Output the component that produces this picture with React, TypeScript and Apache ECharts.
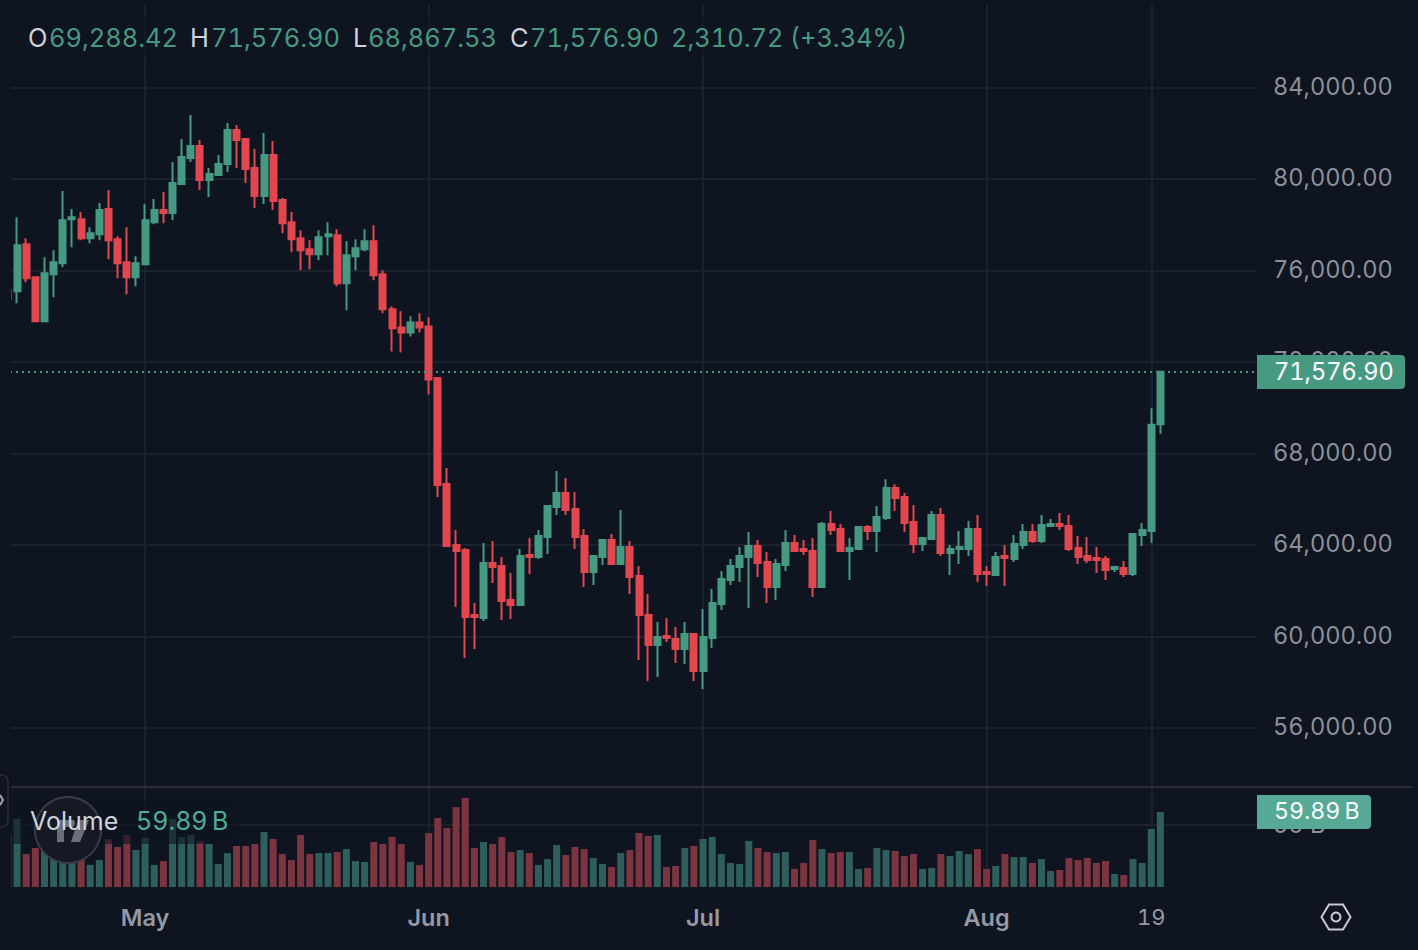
import React, { useEffect, useRef } from "react";
import * as echarts from "echarts";

const opens = [74744,75094,77153,75707,73780,75839,76321,78248,78248,77416,77591,78686,77372,76364,75707,76277,78116,78642,78511,79781,80920,81445,79956,80175,80657,82146,81752,80482,79255,81051,79080,78116,77416,76934,76715,77503,77547,75445,76627,76934,77284,75839,74306,73517,73298,73736,73561,71302,66672,64007,63789,60950,60818,63221,63090,61605,61386,63570,63483,64356,65667,66278,65579,64400,62828,63483,64225,63177,63920,62653,60950,59639,60032,59901,59464,60120,58503,59945,61430,62478,63046,63483,63963,63264,62172,63133,64094,63830,63743,62171,64921,64703,63743,63830,64791,64616,65183,66493,66100,65009,64048,64267,65314,63656,63830,63830,64703,62826,62695,63525,63394,64005,64572,64179,64834,64921,64834,63874,63525,63437,63394,62957,63001,62739,64441,64616,69288.42];
const closes = [75138,77109,75664,73780,75883,76364,78204,78335,77416,77635,78642,77328,76321,75707,76321,78204,78642,78511,79825,80963,81445,79956,80219,80657,82146,81708,80438,79255,81051,79036,78073,77372,76890,76715,77459,77591,75445,76671,76978,77284,75795,74306,73474,73298,73736,73517,71240,66628,63963,63745,60862,60862,63221,63046,61561,61386,63527,63483,64400,65711,66278,65536,64356,62828,63527,64225,63177,63920,62609,60950,59639,59988,59945,59464,60120,58503,59988,61474,62522,63090,63527,63963,63221,62172,63177,64094,63745,63743,62171,64921,64660,63743,63874,64791,64616,65227,66493,66056,64965,64048,64310,65314,63656,63830,63918,64703,62739,62739,63481,63437,64048,64572,64179,64878,64921,64834,63830,63481,63350,63350,62914,63045,62739,64485,64660,69266.18,71576.9];
const lows = [74744,74569,75488,73780,73780,74831,76145,77021,77328,77197,77328,76496,75664,74963,75313,76277,78029,78073,78204,79781,80744,79518,79211,80131,80306,80482,79825,78730,78905,78642,77635,76802,76014,76058,76452,76671,75313,74262,76014,76846,75576,74131,72466,72422,73123,73298,70583,66104,63963,61299,59071,59464,60687,62347,60731,60775,61386,62740,63396,63614,65318,65318,63832,62172,62260,63133,63177,63177,61867,58984,58067,58241,59770,58853,58809,58067,57717,59508,61168,62260,62391,61255,62609,61474,61605,62871,63745,63568,61735,62171,64441,63699,62477,63830,64223,63699,65096,65489,64572,63655,63743,64223,63525,62695,63175,63525,62390,62215,62695,62215,63263,63830,64092,64092,64791,64660,63743,63175,63219,62783,62477,62826,62608,62652,63961,64092,68867.53];
const highs = [75138,78335,77416,75707,76583,76890,79474,78686,78554,77897,78949,79518,77503,77897,76627,78905,79124,79430,80744,81752,82803,81708,80482,81051,82453,82365,81752,81314,82015,81664,79168,78554,77766,77328,77766,78116,77810,77284,77372,77810,77985,76014,74437,74218,73999,74131,73955,71345,67370,64662,63876,61474,64094,64182,63483,62784,63832,64313,64662,65754,67239,66934,66322,64706,63570,64269,64487,65536,64182,63090,61867,60644,60818,60425,60644,60163,61212,62085,62871,63396,63920,64575,64225,63701,63396,64662,64444,64223,64310,65009,65489,64921,64310,64791,64878,65707,66886,66667,66275,65751,64354,65489,65620,64005,64616,65052,65314,63088,63699,64005,64441,64921,64921,65314,65140,65402,65314,64398,64354,63917,63525,63088,63306,64529,64965,69985,71576.9];
const volumes = [41.5,54.3,26.3,31.1,29.5,25.5,30.9,32.2,26.9,17.6,21.5,38.3,31.9,41.5,29.5,39.1,17.6,20.7,54.3,39.9,41.5,36.7,34.3,18.4,27.1,32.7,32.7,34.3,43.9,38.3,26.3,21.5,41.5,26.3,27.1,27.1,27.9,30.3,20.7,20.0,35.9,34.3,39.9,34.3,20.0,17.6,43.1,55.1,47.1,63.8,71.0,31.1,35.9,34.3,39.9,27.9,29.5,27.1,17.6,22.3,33.5,25.5,31.9,30.3,23.1,18.4,16.0,27.1,29.5,43.1,40.7,41.5,16.0,16.8,31.1,32.7,38.3,39.9,26.3,19.2,18.4,36.7,31.1,27.9,27.1,27.9,14.4,19.2,37.5,30.3,27.1,27.9,27.9,14.4,15.2,31.1,29.5,28.7,24.7,26.3,14.4,15.2,26.3,24.7,28.7,26.3,30.3,14.4,16.8,26.3,23.9,23.9,19.2,22.3,12.8,13.6,23.1,21.5,23.1,19.2,20.7,10.4,9.6,22.3,19.2,46.3,59.89];

const priceTicks = [56000, 60000, 64000, 68000, 72000, 76000, 80000, 84000];
const volumeTicks = [50];
const monthTickIndex = [15, 46, 76, 107, 125];
const monthTickLabels = ["May", "Jun", "Jul", "Aug", "19"];
const lastClose = 71576.9;

const BG = "#0e1420";
const GREEN = "#479a82";
const RED = "#e2474f";
const GREEN_VOL = "#2f5f5c";
const RED_VOL = "#7c3540";
const GRID = "#1b212d";
const AXIS_TEXT = "#8b9099";
const FONT = "Inter, sans-serif";

const xRange = { min: 0.23, max: 136.56 };

function headerText(x: number, text: string, fill: string) {
  return {
    type: "text",
    x,
    y: 37,
    z: 20,
    style: { text, fill, font: `400 25.4px ${FONT}`, textVerticalAlign: "middle", textAlign: "left" },
  };
}

export default function App() {
  const ref = useRef<HTMLDivElement>(null);
  useEffect(() => {
    document.body.style.margin = "0";
    document.body.style.background = BG;
    const chart = echarts.init(ref.current!, undefined, { renderer: "svg" });
    const candles = opens.map((o, i) => [i, o, closes[i], lows[i], highs[i]]);
    const volumeBars = volumes.map((v, i) => ({
      value: [i, v],
      itemStyle: { color: closes[i] >= opens[i] ? GREEN_VOL : RED_VOL },
    }));
    const commonX = {
      type: "value",
      ...xRange,
      axisLine: { show: false },
      axisTick: { show: false, customValues: monthTickIndex },
      splitLine: { show: true, lineStyle: { color: GRID, width: 2 } },
    };
    chart.setOption({
      animation: false,
      backgroundColor: BG,
      grid: [
        { left: 10, top: 4, width: 1247, height: 783 },
        { left: 10, top: 788, width: 1247, height: 99 },
      ],
      xAxis: [
        { ...commonX, gridIndex: 0, axisLabel: { show: false, customValues: monthTickIndex } },
        {
          ...commonX,
          gridIndex: 1,
          axisLabel: {
            show: true,
            customValues: monthTickIndex,
            margin: 16,
            hideOverlap: false,
            showMinLabel: true,
            showMaxLabel: true,
            formatter: (v: number) => {
              const t = monthTickLabels[monthTickIndex.indexOf(v)] ?? "";
              return /^\d/.test(t) ? `{d|${t}}` : `{m|${t}}`;
            },
            rich: {
              m: { fontFamily: FONT, fontSize: 23.5, fontWeight: 600, color: "#9599a3", lineHeight: 28 },
              d: { fontFamily: FONT, fontSize: 22, fontWeight: 400, color: "#9599a3", lineHeight: 28 },
            },
          },
        },
      ],
      yAxis: [
        {
          type: "value",
          gridIndex: 0,
          position: "right",
          min: 53432,
          max: 87649,
          axisLine: { show: false },
          axisTick: { show: false, customValues: priceTicks },
          splitLine: { show: true, lineStyle: { color: GRID, width: 2 } },
          axisLabel: {
            customValues: priceTicks,
            margin: 16,
            color: AXIS_TEXT,
            fontFamily: FONT,
            fontSize: 23.6,
            verticalAlign: "bottom",
            lineHeight: 3,
            formatter: (v: number) => v.toLocaleString("en-US", { minimumFractionDigits: 2 }),
          },
        },
        {
          type: "value",
          gridIndex: 1,
          position: "right",
          min: 0,
          max: 79,
          axisLine: { show: false },
          axisTick: { show: false, customValues: volumeTicks },
          splitLine: { show: true, lineStyle: { color: GRID, width: 2 } },
          axisLabel: {
            customValues: volumeTicks,
            margin: 16,
            color: AXIS_TEXT,
            fontFamily: FONT,
            fontSize: 23.6,
            formatter: (v: number) => `${v} B`,
          },
        },
      ],
      series: [
        {
          type: "candlestick",
          xAxisIndex: 0,
          yAxisIndex: 0,
          data: candles,
          barWidth: 6.5,
          itemStyle: {
            color: GREEN,
            color0: RED,
            borderColor: GREEN,
            borderColor0: RED,
            borderWidth: 2,
          },
          markLine: {
            silent: true,
            symbol: "none",
            label: { show: false },
            lineStyle: { color: GREEN, type: [2, 4], width: 2 },
            data: [{ yAxis: lastClose }],
          },
        },
        {
          type: "bar",
          xAxisIndex: 1,
          yAxisIndex: 1,
          data: volumeBars,
          barWidth: 7,
        },
      ],
      graphic: [
        { type: "rect", z: 10, shape: { x: 0, y: 0, width: 11, height: 889 }, style: { fill: BG } },
        { type: "line", z: 11, shape: { x1: 11, y1: 787, x2: 1412, y2: 787 }, style: { stroke: "#2a2e39", lineWidth: 2 } },
        { type: "rect", z: 11, shape: { x: 12, y: 14, width: 910, height: 44 }, style: { fill: BG, opacity: 0.55 } },
        { type: "rect", z: 11, shape: { x: 12, y: 800, width: 227, height: 44 }, style: { fill: BG, opacity: 0.6 } },
        { type: "circle", z: 12, shape: { cx: 68, cy: 830, r: 33 }, style: { fill: "#141924", stroke: "#393d47", lineWidth: 2 } },
        { type: "polygon", z: 13, shape: { points: [[57, 820], [74, 820], [74, 827], [64, 827], [64, 842], [57, 842]] }, style: { fill: "#6a6e78" } },
        { type: "circle", z: 13, shape: { cx: 72, cy: 823, r: 3 }, style: { fill: "#6a6e78" } },
        { type: "polygon", z: 13, shape: { points: [[78, 820], [89, 820], [80, 842], [71, 842]] }, style: { fill: "#6a6e78" } },
        { type: "rect", z: 11, shape: { x: -10, y: 775, width: 18, height: 52, r: 6 }, style: { fill: BG, stroke: "#2a2e39", lineWidth: 1.5 } },
        { type: "polyline", z: 12, shape: { points: [[0, 795], [3, 800], [0, 805]] }, style: { fill: "none", stroke: "#a0a4ad", lineWidth: 2 } },
        headerText(28, "O", "#cfd2d9"),
        headerText(49, "69,288.42", GREEN),
        headerText(190, "H", "#cfd2d9"),
        headerText(211, "71,576.90", GREEN),
        headerText(353, "L", "#cfd2d9"),
        headerText(368, "68,867.53", GREEN),
        headerText(510, "C", "#cfd2d9"),
        headerText(530, "71,576.90", GREEN),
        headerText(671, "2,310.72", GREEN),
        headerText(790, "(+3.34%)", GREEN),
        { type: "text", z: 20, x: 30, y: 821, style: { text: "Volume", fill: "#d0d3da", font: `400 25px ${FONT}`, textVerticalAlign: "middle" } },
        { type: "text", z: 20, x: 136, y: 821, style: { text: "59.89\u202fB", fill: "#4fae97", font: `400 25px ${FONT}`, textVerticalAlign: "middle" } },
        { type: "rect", z: 15, shape: { x: 1257, y: 355, width: 148, height: 34, r: [0, 4, 4, 0] }, style: { fill: GREEN } },
        { type: "text", z: 20, x: 1274, y: 371, style: { text: "71,576.90", fill: "#ffffff", font: `400 23.6px ${FONT}`, textVerticalAlign: "middle" } },
        { type: "rect", z: 15, shape: { x: 1257, y: 795, width: 114, height: 34, r: [0, 4, 4, 0] }, style: { fill: "#55a995" } },
        { type: "text", z: 20, x: 1274, y: 811, style: { text: "59.89\u202fB", fill: "#ffffff", font: `400 23.2px ${FONT}`, textVerticalAlign: "middle" } },
        {
          type: "polygon",
          z: 15,
          shape: { points: [[1321.5, 917], [1329, 904.5], [1343, 904.5], [1350.5, 917], [1343, 929.5], [1329, 929.5]] },
          style: { fill: "none", stroke: "#c9ccd3", lineWidth: 2 },
        },
        { type: "circle", z: 15, shape: { cx: 1336, cy: 917, r: 4.5 }, style: { fill: "none", stroke: "#c9ccd3", lineWidth: 2 } },
      ],
    });
    return () => chart.dispose();
  }, []);
  return (
    <>
      <style>{`svg text { font-feature-settings: "tnum" 1 !important; font-variant-numeric: tabular-nums !important; }`}</style>
      <div ref={ref} style={{ width: 1418, height: 950, background: BG }} />
    </>
  );
}
